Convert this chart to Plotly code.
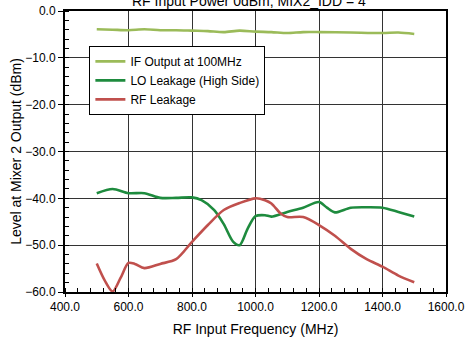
import plotly.graph_objects as go

# ---- data ----
if_freq = [500, 550, 600, 650, 700, 750, 800, 850, 900, 950, 1000, 1050, 1100, 1150, 1200, 1300, 1400, 1450, 1500]
if_level = [-3.9, -4.0, -4.1, -3.9, -4.1, -4.1, -4.2, -4.3, -4.5, -4.2, -4.4, -4.5, -4.7, -4.5, -4.5, -4.6, -4.7, -4.6, -4.9]

lo_freq = [500, 550, 600, 650, 700, 750, 800, 830, 870, 900, 930, 950, 975, 1000, 1030, 1050, 1100, 1150, 1200, 1225, 1250, 1300, 1350, 1400, 1450, 1500]
lo_level = [-38.9, -38.0, -38.9, -38.9, -39.9, -39.9, -39.8, -40.4, -42.5, -45.5, -49.3, -50.0, -46.5, -43.8, -43.6, -43.9, -42.9, -42.0, -40.8, -42.0, -43.0, -42.0, -41.9, -42.0, -42.9, -43.9]

rf_freq = [500, 525, 550, 575, 600, 620, 650, 700, 750, 800, 850, 900, 950, 1000, 1030, 1050, 1080, 1100, 1150, 1200, 1250, 1300, 1350, 1400, 1450, 1500]
rf_level = [-53.9, -57.5, -59.9, -57.0, -53.8, -54.0, -54.9, -54.0, -53.0, -49.3, -45.7, -42.5, -41.0, -40.0, -40.4, -41.1, -43.3, -44.0, -44.0, -45.7, -48.0, -50.8, -53.0, -54.6, -56.5, -57.9]

series_names = ["IF Output at 100MHz", "LO Leakage (High Side)", "RF Leakage"]
series_colors = ["#9BBB59", "#1E8B3E", "#C0504D"]

title_text = "RF Input Power 0dBm, MIX2_IDD = 4"
x_title = "RF Input Frequency (MHz)"
y_title = "Level at Mixer 2 Output (dBm)"

fig = go.Figure()
for xs, ys, name, col in zip([if_freq, lo_freq, rf_freq], [if_level, lo_level, rf_level], series_names, series_colors):
    fig.add_trace(go.Scatter(x=xs, y=ys, mode="lines", name=name,
                             line=dict(color=col, width=2.6, shape="spline", smoothing=0.8)))

font_family = "Liberation Sans, Arial, sans-serif"

fig.update_layout(
    width=469, height=337,
    margin=dict(l=65, r=23, t=11, b=45, autoexpand=False),
    paper_bgcolor="white", plot_bgcolor="white",
    font=dict(family=font_family, size=12, color="black"),
    showlegend=True,
    legend=dict(x=0.064, y=0.876, xanchor="left", yanchor="top",
                bgcolor="white", bordercolor="black", borderwidth=1,
                font=dict(size=12, color="black"), tracegroupgap=0),
    annotations=[dict(text=title_text, x=0.483, y=1, xref="paper", yref="paper",
                      xanchor="center", yanchor="bottom", yshift=0, showarrow=False,
                      font=dict(size=14, color="black"))],
)

fig.update_xaxes(
    range=[400, 1600], dtick=200, tick0=400, tickformat=".1f",
    showgrid=True, gridcolor="#333333", gridwidth=1,
    showline=True, linecolor="black", linewidth=2, mirror=True,
    ticks="outside", ticklen=3, tickcolor="black",
    minor=dict(dtick=40, ticks="inside", ticklen=4, tickcolor="black", showgrid=False),
    tickfont=dict(size=12), automargin=False,
    title=dict(text=x_title, font=dict(size=14), standoff=16),
    zeroline=False,
)
fig.update_yaxes(
    range=[-60, 0], dtick=10, tick0=0, tickformat=".1f",
    showgrid=True, gridcolor="#333333", gridwidth=1,
    showline=True, linecolor="black", linewidth=2, mirror=True,
    ticks="outside", ticklen=5, tickcolor="black",
    minor=dict(dtick=2, ticks="inside", ticklen=4, tickcolor="black", showgrid=False),
    tickfont=dict(size=12), automargin=False,
    title=dict(text=y_title, font=dict(size=14), standoff=0),
    zeroline=False,
)

fig.write_html("out.html", config={"displayModeBar": False},
               post_script="document.body.style.margin='0';")
